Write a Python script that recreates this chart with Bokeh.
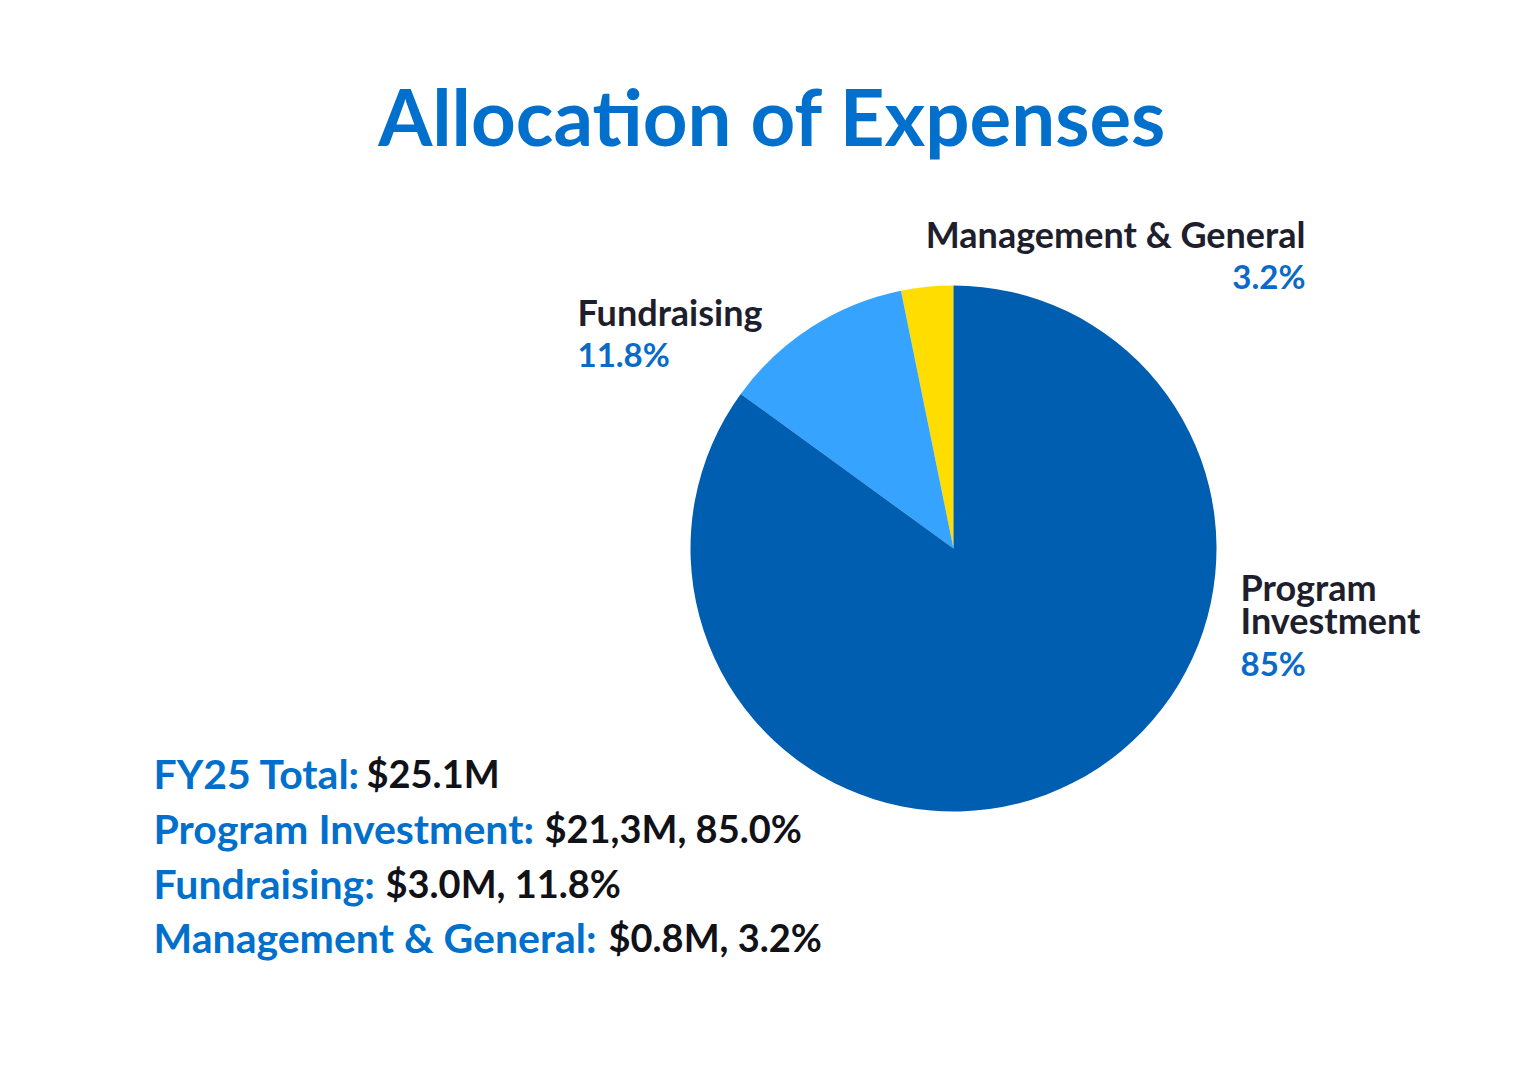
from math import pi
from bokeh.plotting import figure
from bokeh.models import Range1d
from bokeh.core.properties import value
from bokeh.embed import file_html
from bokeh.resources import INLINE

# data
categories = ["Management & General", "Fundraising", "Program Investment"]
percents = [3.2, 11.8, 85.0]
pie_labels = ["3.2%", "11.8%", "85%"]
amounts = ["$0.8M", "$3.0M", "$21,3M"]
total_label = "$25.1M"
fy_label = "FY25 Total:"
colors = ["#FFDD00", "#36A3FF", "#005EB0"]

W, H = 1517, 1057
FONT = value("Lato")


def X(sx):
    return sx


def Y(sy):
    return H - sy


def TY(sy, size):
    # baseline position corrected for how the text glyph is laid out
    return H - (sy - 0.45 * size)


p = figure(width=W, height=H, x_range=Range1d(0, W), y_range=Range1d(0, H),
           output_backend="svg", toolbar_location=None, min_border=0)
p.axis.visible = False
p.grid.visible = False
p.outline_line_color = None
p.background_fill_color = "white"

# pie, counterclockwise from 12 o'clock
starts, ends = [], []
acc = 0.0
for v in percents:
    starts.append(pi / 2 + 2 * pi * acc / 100)
    acc += v
    ends.append(pi / 2 + 2 * pi * acc / 100)
p.wedge(x=X(953), y=Y(548), radius=263, start_angle=starts, end_angle=ends,
        fill_color=colors, line_color=None)

# title
p.text(x=[X(772)], y=[TY(151, 78)], text=["Allocation of Expenses"], text_font=FONT,
       text_font_style="bold", text_font_size="78px", text_color="#0070CC",
       text_align="center", text_baseline="alphabetic")

dark = "#1E1E2C"
blue = "#0A6AC8"
LS, PS = 36, 33
lbl = dict(text_font=FONT, text_font_style="bold", text_font_size=f"{LS}px",
           text_baseline="alphabetic")
pct = dict(text_font=FONT, text_font_style="bold", text_font_size=f"{PS}px",
           text_baseline="alphabetic")

# slice labels
p.text(x=[X(1305)], y=[TY(250, LS)], text=[categories[0]], text_color=dark,
       text_align="right", **lbl)
p.text(x=[X(1305)], y=[TY(290, PS)], text=[pie_labels[0]], text_color=blue,
       text_align="right", **pct)
p.text(x=[X(577)], y=[TY(328, LS)], text=[categories[1]], text_color=dark,
       text_align="left", **lbl)
p.text(x=[X(577)], y=[TY(368, PS)], text=[pie_labels[1]], text_color=blue,
       text_align="left", **pct)
p.text(x=[X(1240), X(1240)], y=[TY(603, LS), TY(636, LS)], text=categories[2].split(" "),
       text_color=dark, text_align="left", **lbl)
p.text(x=[X(1240)], y=[TY(677, PS)], text=[pie_labels[2]], text_color=blue,
       text_align="left", **pct)

# summary block
SS, VS = 41, 38
head_style = dict(text_font=FONT, text_font_style="bold", text_font_size=f"{SS}px",
                  text_baseline="alphabetic", text_align="left")
val_style = dict(text_font=FONT, text_font_style="bold", text_font_size=f"{VS}px",
                 text_baseline="alphabetic", text_align="left")
rows = [(fy_label, total_label, 791, 366),
        (categories[2] + ":", amounts[2] + ", " + f"{percents[2]:.1f}%", 846, 544),
        (categories[1] + ":", amounts[1] + ", " + f"{percents[1]:.1f}%", 901, 385),
        (categories[0] + ":", amounts[0] + ", " + f"{percents[0]:.1f}%", 955, 608)]
for head, val, sy, vx in rows:
    p.text(x=[X(153)], y=[TY(sy, SS)], text=[head], text_color="#0070CC", **head_style)
    p.text(x=[X(vx)], y=[TY(sy, SS)], text=[val], text_color="#111118", **val_style)

open("out.html", "w").write(file_html(p, INLINE))
